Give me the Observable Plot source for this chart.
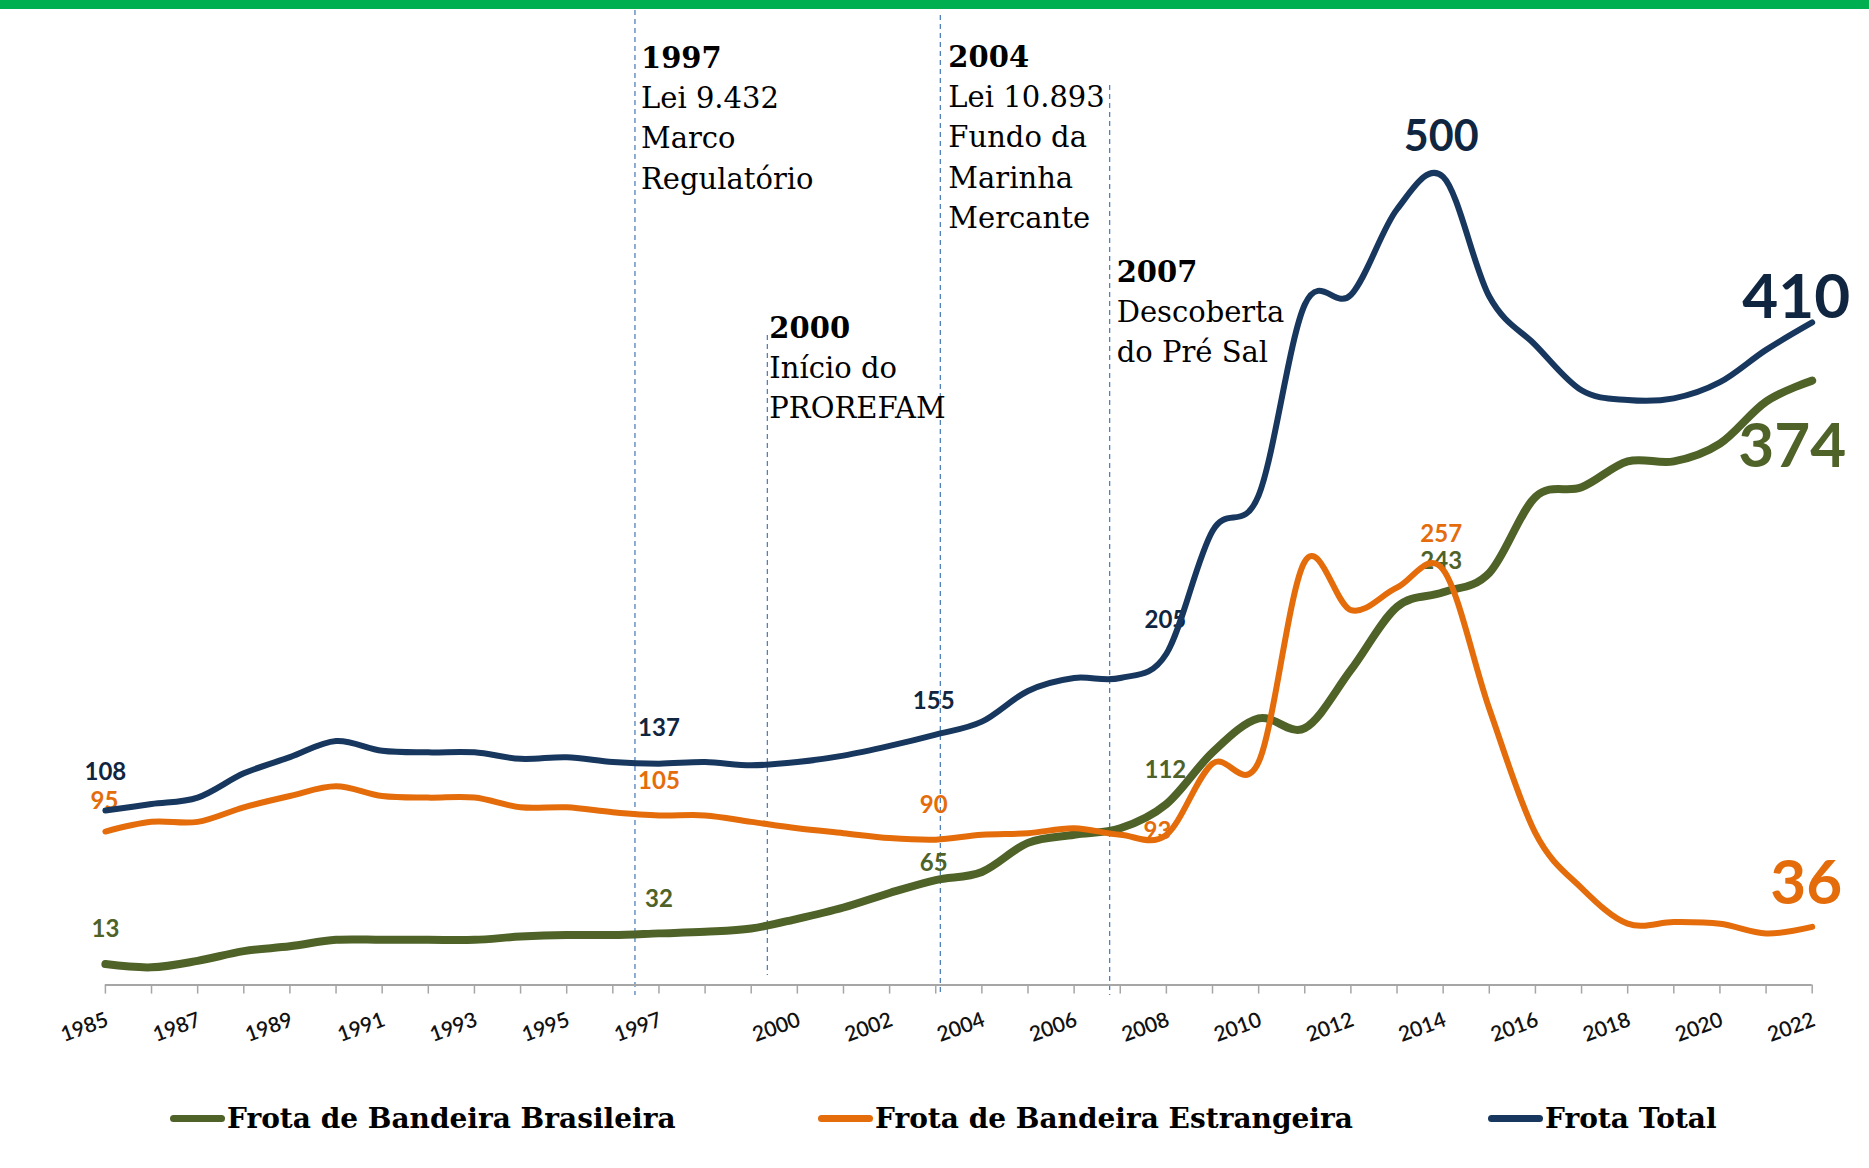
<!DOCTYPE html>
<html><head><meta charset="utf-8">
<script src="https://cdn.jsdelivr.net/npm/d3@7"></script>
<script src="https://cdn.jsdelivr.net/npm/@observablehq/plot@0.6"></script>
<style>
body{margin:0;background:#fff;}
#wrap{position:relative;width:1869px;height:1168px;overflow:hidden;background:#fff;}
#chart{position:absolute;left:0;top:0;}
#band{position:absolute;left:0;top:0;width:1869px;height:9px;background:#00B050;}
#legend{position:absolute;top:1098px;left:0;width:1869px;height:40px;font-family:"DejaVu Serif",serif;font-weight:bold;font-size:28px;color:#000;}
.item{position:absolute;top:0;display:flex;align-items:center;height:40px;white-space:nowrap;}
.sw{width:55px;height:7px;border-radius:4px;margin-right:2px;}
</style></head>
<body><div id="wrap"><div id="chart"></div><div id="band"></div><div id="legend"></div></div>
<script>
// ---------- data ----------
const years = [1985,1986,1987,1988,1989,1990,1991,1992,1993,1994,1995,1996,1997,1998,1999,2000,2001,2002,2003,2004,2005,2006,2007,2008,2009,2010,2011,2012,2013,2014,2015,2016,2017,2018,2019,2020,2021,2022];
const brasileira  = [13,11,15,21,24,28,28,28,28,30,31,31,32,33,35,41,48,57,65,70,88,93,97,112,144,165,159,195,234,243,255,302,308,324,324,335,361,374];
const estrangeira = [95,101,101,110,117,123,117,116,116,110,110,107,105,105,101,97,94,91,90,93,94,97,93,93,137,138,262,232,246,257,171,94,60,38,39,38,32,36];
const total       = [108,112,116,131,141,151,145,144,144,140,141,138,137,138,136,138,142,148,155,163,182,190,190,205,281,303,421,427,480,500,426,396,368,362,363,373,393,410];
const seriesNames = ["Frota de Bandeira Brasileira","Frota de Bandeira Estrangeira","Frota Total"];
const tickLabelYears = [1985,1987,1989,1991,1993,1995,1997,2000,2002,2004,2006,2008,2010,2012,2014,2016,2018,2020,2022];
const labelYears = [1985,1997,2003,2008,2014,2022];
const eventX = [1996.48, 1999.35, 2003.1, 2006.77];
const eventTitles = ["1997","2000","2004","2007"];
const eventTexts = [["Lei 9.432","Marco","Regulatório"],["Início do","PROREFAM"],["Lei 10.893","Fundo da","Marinha","Mercante"],["Descoberta","do Pré Sal"]];

// ---------- styles ----------
const colors = ["#4F6228","#E46C0A","#17375E"];
const labelColors = ["#4F6228","#E46C0A","#10253F"];
const widths = [8,6,6];
const W = 1869, H = 1060;
const M = {top:14.8, bottom:75.4, left:104.9, right:57.3};
const eventStyle = [
  {dx:6, titleY:58, top:10, bottom:995},
  {dx:2, titleY:328, top:335, bottom:975},
  {dx:8, titleY:57, top:15, bottom:995},
  {dx:7, titleY:272, top:85, bottom:995}
];
const lineGap = 40.3;
// label offsets [series][yearIndex] : dx, dy, size
const labelStyle = [
  [{dx:0,dy:-35,s:24},{dx:0,dy:-34,s:24},{dx:-2,dy:-17,s:24},{dx:-1,dy:-34,s:24},{dx:-2,dy:-31,s:24},{dx:-20,dy:67,s:62}],
  [{dx:-1,dy:-30,s:24},{dx:0,dy:-34,s:24},{dx:-2,dy:-34,s:24},{dx:-9,dy:-3,s:24},{dx:-2,dy:-35,s:24},{dx:-6,dy:-43,s:62}],
  [{dx:0,dy:-38,s:24},{dx:0,dy:-35,s:24},{dx:-2,dy:-33,s:24},{dx:-1,dy:-33,s:24},{dx:-2,dy:-40,s:43},{dx:-16,dy:-24,s:62}]
];

const seriesValues = [brasileira, estrangeira, total];
const rows = seriesValues.map((vals, si) => years.map((y, i) => ({year:y, value:vals[i], series:seriesNames[si]})));

const marks = [];
// event dashed lines
eventX.forEach((x, i) => {
  const st = eventStyle[i];
  marks.push(Plot.ruleX([x], {stroke:"#4F81BD", strokeWidth:1.3, strokeDasharray:"5,4",
    insetTop: st.top - M.top, insetBottom: (H - M.bottom) - st.bottom}));
});
// axis baseline & ticks
marks.push(Plot.ruleY([0], {stroke:"#A6A6A6", strokeWidth:2}));
marks.push(Plot.axisX(years, {tickSize:9, stroke:"#A6A6A6", strokeWidth:1.5, tickFormat:() => "", label:null}));
marks.push(Plot.text(tickLabelYears, {x:d => d, frameAnchor:"bottom", dy:34, dx:2, rotate:-20, textAnchor:"end", lineAnchor:"middle",
  text:d => String(d), fontFamily:"Lato", fontSize:21, fontWeight:600, fill:"#111"}));
// value labels (drawn under the lines)
seriesValues.forEach((vals, si) => {
  labelYears.forEach((yr, li) => {
    const st = labelStyle[si][li];
    const i = years.indexOf(yr);
    marks.push(Plot.text([{year:yr, value:vals[i]}], {x:"year", y:"value", text:d => String(d.value),
      dx:st.dx, dy:st.dy, fontSize:st.s, fontWeight:"bold", fontFamily:"Lato", fill:labelColors[si], lineAnchor:"middle"}));
  });
});
// lines
rows.forEach((r, si) => {
  marks.push(Plot.line(r, {x:"year", y:"value", stroke:colors[si], strokeWidth:widths[si], curve:"cardinal",
    strokeLinecap:"round", strokeLinejoin:"round"}));
});
// event annotations
eventX.forEach((x, i) => {
  const st = eventStyle[i];
  marks.push(Plot.text([x], {x:d => d, frameAnchor:"top", dx:st.dx, dy:st.titleY - M.top, text:() => eventTitles[i],
    textAnchor:"start", lineAnchor:"middle", fontFamily:"DejaVu Serif", fontWeight:"bold", fontSize:29, fill:"#000"}));
  eventTexts[i].forEach((t, j) => {
    marks.push(Plot.text([x], {x:d => d, frameAnchor:"top", dx:st.dx, dy:st.titleY - M.top + (j+1)*lineGap, text:() => t,
      textAnchor:"start", lineAnchor:"middle", fontFamily:"DejaVu Serif", fontSize:29, fill:"#000"}));
  });
});

const chart = Plot.plot({
  width:W, height:H,
  marginTop:M.top, marginBottom:M.bottom, marginLeft:M.left, marginRight:M.right,
  x:{type:"linear", domain:[1985,2022], axis:null},
  y:{type:"linear", domain:[0,600], axis:null},
  style:{background:"transparent", overflow:"visible"},
  marks
});
document.getElementById("chart").appendChild(chart);

// legend
const legendLeft = [170, 818, 1488];
const legend = document.getElementById("legend");
seriesNames.forEach((name, i) => {
  const it = document.createElement("div");
  it.className = "item";
  it.style.left = legendLeft[i] + "px";
  const sw = document.createElement("span");
  sw.className = "sw";
  sw.style.background = colors[i];
  const tx = document.createElement("span");
  tx.textContent = name;
  it.appendChild(sw); it.appendChild(tx);
  legend.appendChild(it);
});
</script>
</body></html>
